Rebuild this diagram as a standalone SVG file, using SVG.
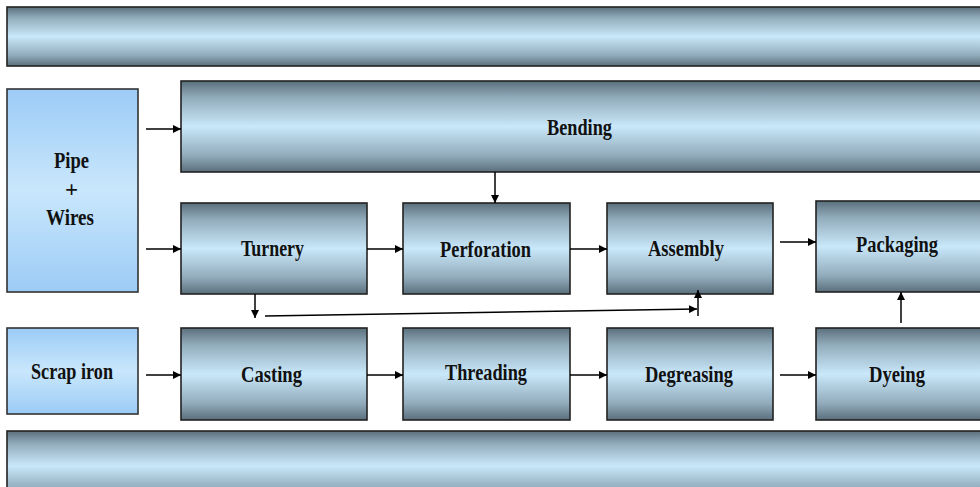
<svg xmlns="http://www.w3.org/2000/svg" width="980" height="487" viewBox="0 0 980 487">
<defs>
<linearGradient id="steel" x1="0" y1="0" x2="0" y2="1">
<stop offset="0" stop-color="#5b6f7c"/>
<stop offset="0.18" stop-color="#91abbb"/>
<stop offset="0.5" stop-color="#c9e8fa"/>
<stop offset="0.82" stop-color="#91abbb"/>
<stop offset="1" stop-color="#5b6f7c"/>
</linearGradient>
<linearGradient id="sky" x1="0" y1="0" x2="0" y2="1">
<stop offset="0" stop-color="#9ccbf6"/>
<stop offset="0.5" stop-color="#c9e7fc"/>
<stop offset="1" stop-color="#9ccbf6"/>
</linearGradient>
<marker id="ah" viewBox="0 0 10 10" refX="10" refY="5" markerWidth="8" markerHeight="8" markerUnits="userSpaceOnUse" orient="auto">
<path d="M0,0 L10,5 L0,10 z" fill="#000"/>
</marker>
</defs>
<style>
.proc{fill:url(#steel);stroke:#222;stroke-width:1.6}
.src{fill:url(#sky);stroke:#333;stroke-width:1.6}
.lbl{font-family:"Liberation Serif","Times New Roman",serif;font-weight:bold;font-size:23px;fill:#111;text-anchor:middle}
.c{stroke:#000;stroke-width:1.5;fill:none;marker-end:url(#ah)}
</style>
<rect width="980" height="487" fill="#fff"/>
<g id="topbar"><rect class="proc" x="7" y="7" width="990" height="59"/></g>
<g id="bottombar"><rect class="proc" x="7" y="431" width="990" height="70"/></g>
<g id="pipe-wires"><rect class="src" x="7" y="89" width="131" height="203"/>
<text class="lbl" x="71.5" y="168" textLength="35" lengthAdjust="spacingAndGlyphs">Pipe</text>
<text class="lbl" x="71.5" y="197">+</text>
<text class="lbl" x="70" y="225" textLength="48" lengthAdjust="spacingAndGlyphs">Wires</text></g>
<g id="scrap-iron"><rect class="src" x="7" y="328" width="131" height="86"/>
<text class="lbl" x="72" y="379" textLength="82" lengthAdjust="spacingAndGlyphs">Scrap iron</text></g>
<g id="bending"><rect class="proc" x="181" y="81" width="810" height="91"/>
<text class="lbl" x="579.5" y="135" textLength="65" lengthAdjust="spacingAndGlyphs">Bending</text></g>
<g id="turnery"><rect class="proc" x="181" y="203" width="186" height="91"/>
<text class="lbl" x="272.5" y="256" textLength="63" lengthAdjust="spacingAndGlyphs">Turnery</text></g>
<g id="perforation"><rect class="proc" x="403" y="203" width="167" height="91"/>
<text class="lbl" x="485.5" y="257" textLength="91" lengthAdjust="spacingAndGlyphs">Perforation</text></g>
<g id="assembly"><rect class="proc" x="607" y="203" width="166" height="91"/>
<text class="lbl" x="686" y="256" textLength="76" lengthAdjust="spacingAndGlyphs">Assembly</text></g>
<g id="packaging"><rect class="proc" x="816" y="201" width="180" height="91"/>
<text class="lbl" x="897" y="252" textLength="82" lengthAdjust="spacingAndGlyphs">Packaging</text></g>
<g id="casting"><rect class="proc" x="181" y="328" width="186" height="92"/>
<text class="lbl" x="271.5" y="382" textLength="61" lengthAdjust="spacingAndGlyphs">Casting</text></g>
<g id="threading"><rect class="proc" x="403" y="328" width="167" height="92"/>
<text class="lbl" x="486" y="380" textLength="82" lengthAdjust="spacingAndGlyphs">Threading</text></g>
<g id="degreasing"><rect class="proc" x="607" y="328" width="166" height="92"/>
<text class="lbl" x="689" y="382" textLength="88" lengthAdjust="spacingAndGlyphs">Degreasing</text></g>
<g id="dyeing"><rect class="proc" x="816" y="328" width="180" height="92"/>
<text class="lbl" x="897" y="382" textLength="56" lengthAdjust="spacingAndGlyphs">Dyeing</text></g>
<g id="connectors">
<line class="c" x1="146" y1="129" x2="181" y2="129"/>
<line class="c" x1="146" y1="249" x2="181" y2="249"/>
<line class="c" x1="495" y1="172" x2="495" y2="203"/>
<line class="c" x1="367" y1="249" x2="403" y2="249"/>
<line class="c" x1="570" y1="249" x2="607" y2="249"/>
<line class="c" x1="780" y1="242" x2="816" y2="242"/>
<line class="c" x1="255" y1="294" x2="255" y2="318"/>
<line class="c" x1="265" y1="316" x2="697" y2="309"/>
<line class="c" x1="698" y1="316" x2="698" y2="290"/>
<line class="c" x1="901" y1="323" x2="901" y2="292"/>
<line class="c" x1="146" y1="375" x2="181" y2="375"/>
<line class="c" x1="367" y1="375" x2="403" y2="375"/>
<line class="c" x1="570" y1="375" x2="607" y2="375"/>
<line class="c" x1="780" y1="375" x2="816" y2="375"/>
</g>
</svg>
